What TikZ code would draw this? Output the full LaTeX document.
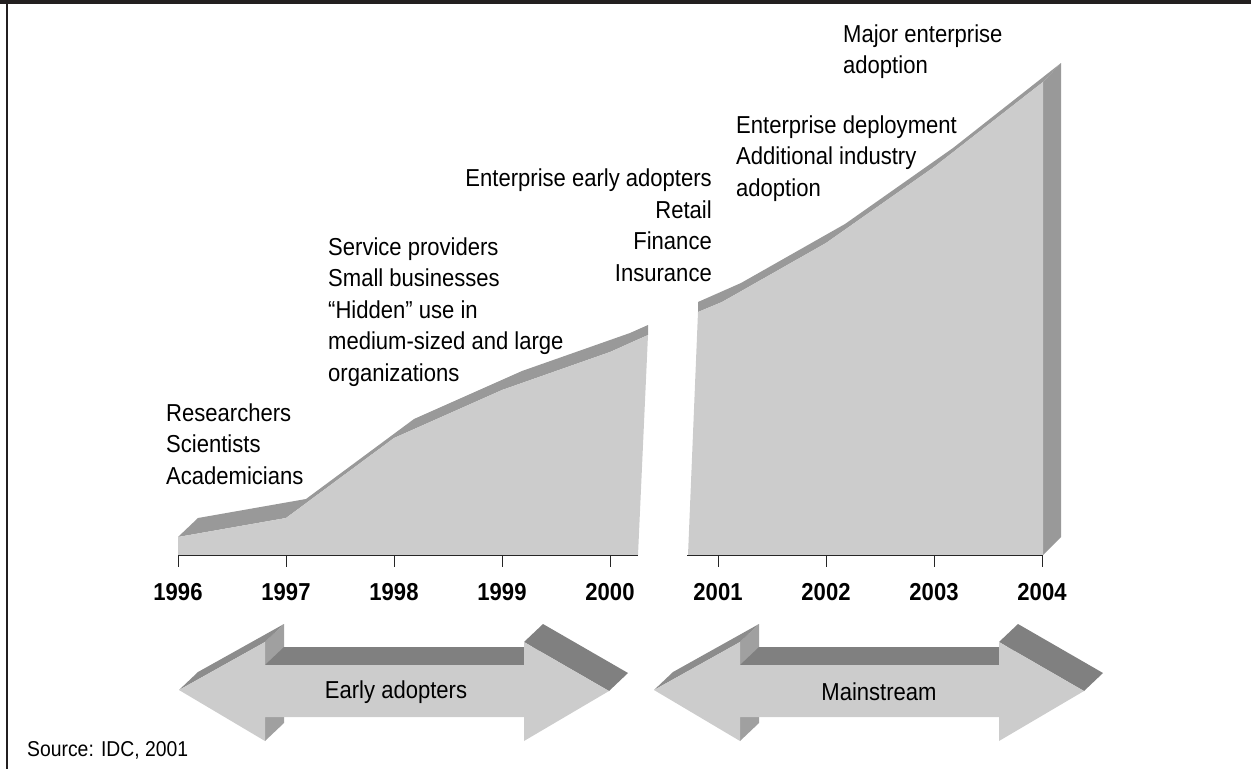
\documentclass[tikz,border=0pt]{standalone}
\usepackage{fontspec}
\setmainfont{Liberation Sans}[FakeStretch=0.9]
\definecolor{frameblack}{HTML}{231F20}
\definecolor{grayfront}{HTML}{CCCCCC}
\definecolor{graystrip}{HTML}{999999}
\definecolor{graytop}{HTML}{808080}
\definecolor{graybevel}{HTML}{8C8C8C}
\definecolor{grayside}{HTML}{A0A0A0}
\tikzset{
  lbl/.style={font=\fontsize{24.5}{31.5}\selectfont, inner sep=0pt},
  yr/.style={font=\fontsize{24.5}{30}\selectfont\bfseries, inner sep=0pt},
  axis/.style={draw=black!85, line width=1pt}
}
\begin{document}
\begin{tikzpicture}[x=1pt,y=-1pt]
\useasboundingbox (0,0) rectangle (1251,769);
\fill[frameblack] (0,0) rectangle (1251,4);
\fill[frameblack] (6,0) rectangle (8,769);
\fill[graystrip] (178,537) -- (198,518) -- (306,499) -- (414,419) -- (522,371) -- (630,333) -- (648,325) -- (648,335) -- (610,352) -- (502,390) -- (394,438) -- (286,518) -- cycle;
\fill[grayfront] (178,555) -- (178,537) -- (286,518) -- (394,438) -- (502,390) -- (610,352) -- (648,335) -- (638,555) -- cycle;
\fill[graystrip] (698,312) -- (698,302) -- (741,283) -- (845,224) -- (953,148) -- (1061,63) -- (1043,82) -- (934,167) -- (826,243) -- (722,302) -- cycle;
\fill[graystrip] (1043,82) -- (1061,63) -- (1061,537) -- (1043,555) -- cycle;
\fill[grayfront] (688,555) -- (698,312) -- (722,302) -- (826,243) -- (934,167) -- (1043,82) -- (1043,555) -- cycle;
\draw[axis] (178,555) -- (638,555);
\draw[axis] (687,555) -- (1043,555);
\foreach \x/\yr in {178/1996,286/1997,394/1998,502/1999,610/2000,718/2001,826/2002,934/2003,1042/2004} {
  \draw[axis] (\x,555) -- (\x,567);
  \node[yr] (y\yr) at (\x,592) {\yr};
}
\foreach \dx in {0,475} {
\begin{scope}[xshift=\dx pt]
\fill[grayside] (265,642) -- (284,624) -- (284,723) -- (265,741) -- cycle;
\fill[graybevel] (179,690) -- (198,672) -- (284,624) -- (265,642) -- cycle;
\fill[graytop] (265,665) -- (284,647) -- (543,647) -- (524,665) -- cycle;
\fill[graytop] (524,642) -- (543,624) -- (628,673) -- (609,691) -- cycle;
\fill[grayfront] (179,690) -- (265,642) -- (265,665) -- (524,665) -- (524,642) -- (609,691) -- (524,741) -- (524,717) -- (265,717) -- (265,741) -- cycle;
\end{scope}
}
\node[lbl] (v6) at (396,692) {Early adopters};
\node[lbl] (v7) at (879,692) {Mainstream};
\node[lbl, align=left, anchor=base west] (v1) at (166,484) {Researchers\\Scientists\\Academicians};
\node[lbl, align=left, anchor=base west] (v2) at (328,381) {Service providers\\Small businesses\\“Hidden” use in\\medium-sized and large\\organizations};
\node[lbl, align=right, anchor=base east] (v3) at (712,281) {Enterprise early adopters\\Retail\\Finance\\Insurance};
\node[lbl, align=left, anchor=base west] (v4) at (736,196) {Enterprise deployment\\Additional industry\\adoption};
\node[lbl, align=left, anchor=base west] (v5) at (843,73.5) {Major enterprise\\adoption};
\node[inner sep=0pt, anchor=base west, font=\fontsize{21.5}{26}\selectfont] (v8) at (27,756) {Source: IDC, 2001};
\end{tikzpicture}
\end{document}
